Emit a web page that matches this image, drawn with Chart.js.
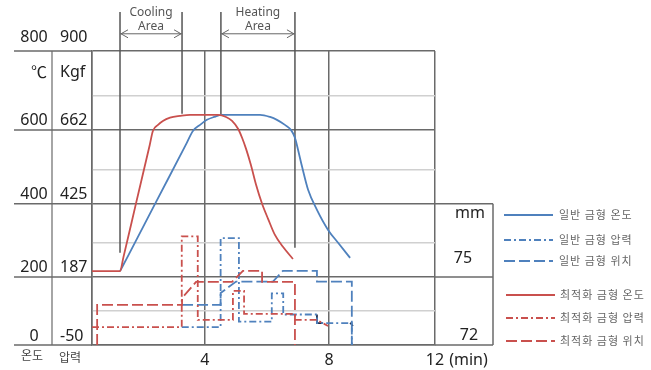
<!DOCTYPE html>
<html><head><meta charset="utf-8">
<script src="https://cdn.jsdelivr.net/npm/chart.js@4.4.1/dist/chart.umd.min.js"></script>
<style>html,body{margin:0;padding:0;background:#fff;}canvas{display:block;}</style>
</head><body>
<canvas id="c" width="651" height="370"></canvas>
<script>
// ---- axes / grid (x in minutes, y in chart units of the drawing) ----
const xGridMinutes = [0, 3.95, 8.29, 12];
const xTickLabels = ['', '4', '8', '12'];
const xUnitLabel = '(min)';
const yMajorValues = [0, 190, 394, 600, 820];
const yMinorValues = [95, 285, 488, 695];
const tempLabels = ['0', '200', '400', '600', '800'];
const pressLabels = ['-50', '187', '425', '662', '900'];
const posBoxLabels = ['72', '75', 'mm'];
const colHeaders = ['℃', 'Kgf'];
const colFooters = ['온도', '압력'];

// ---- annotated areas ----
const coolingArea = [0.98, 3.15];
const coolingLineEnds = [257, 645];
const heatingArea = [4.51, 7.10];
const heatingLineEnds = [642, 271];
const areaTop = 929;
const arrowLevel = 868;

// ---- series ----
const normTempX = [0.98, 1.24, 2.26, 3.28, 3.53, 3.78, 4.02, 4.27, 4.55, 5.88, 6.23, 6.47, 6.75, 6.96, 7.1, 7.21, 7.35, 7.56, 7.87, 8.26, 8.61, 9.03];
const normTempY = [206, 245, 402, 558, 597, 614, 628, 636, 642, 642, 636, 628, 614, 600, 578, 544, 497, 433, 377, 321, 285, 243];
const normPressX = [3.14, 4.5, 4.5, 5.14, 5.14, 6.29, 6.29, 6.69, 6.69, 7.87, 7.87, 9.09, 9.09];
const normPressY = [50, 50, 298, 298, 65, 65, 144, 144, 85, 85, 61, 61, 0];
const normPosX = [3.15, 4.5, 4.5, 5.04, 6.33, 6.68, 7.87, 7.87, 9.09, 9.09];
const normPosY = [112, 112, 145, 177, 177, 207, 207, 177, 177, 0];
const markX = [7.87, 7.87, 8.08, null, 9.03, 9.13];
const markY = [85, 61, 61, null, 62, 53];

const optTempX = [0, 0.98, 1.1, 1.56, 2.02, 2.13, 2.31, 2.48, 2.73, 3.08, 3.43, 4.41, 4.69, 4.9, 5.11, 5.25, 5.39, 5.56, 5.74, 5.95, 6.16, 6.4, 6.68, 7.03];
const optTempY = [206, 206, 245, 402, 558, 597, 614, 625, 634, 639, 642, 642, 636, 625, 603, 578, 547, 502, 447, 394, 352, 307, 274, 240];
const optPressX = [0, 3.14, 3.14, 3.7, 3.7, 4.93, 4.93, 5.32, 5.32, 7.1, 7.1, 7.87, 8.26];
const optPressY = [50, 50, 303, 303, 70, 70, 151, 151, 87, 87, 70, 70, 53];
const optPosX = [0.18, 0.18, 3.15, 3.15, 3.64, 4.9, 5.28, 5.95, 5.95, 7.1, 7.1];
const optPosY = [0, 112, 112, 131, 176, 176, 207, 207, 176, 176, 0];

const BLUE = '#4F81BD', RED = '#C9504D';
const DASHDOT = [7, 3, 2, 3], DASH = [11, 4];
const DARK = '#6a6a6a', LIGHT = '#d0d0d0';
const LATIN = '"Noto Sans", "Noto Sans CJK KR", sans-serif';
const CJK = '"Noto Sans CJK KR", sans-serif';

const pts = (xs, ys) => xs.map((x, i) => (x === null ? {x: NaN, y: null} : {x, y: ys[i]}));
const mk = (label, xs, ys, color, dash, smooth) => ({
  label, data: pts(xs, ys), borderColor: color, borderWidth: 1.8, borderDash: dash,
  pointRadius: 0, tension: 0, fill: false, borderJoinStyle: 'miter', borderCapStyle: 'butt',
  cubicInterpolationMode: smooth ? 'monotone' : 'default', spanGaps: false
});

const datasets = [
  mk('최적화 금형 온도', optTempX, optTempY, RED, [], true),
  mk('최적화 금형 압력', optPressX, optPressY, RED, DASHDOT),
  mk('최적화 금형 위치', optPosX, optPosY, RED, DASH),
  mk('일반 금형 온도', normTempX, normTempY, BLUE, [], true),
  mk('일반 금형 압력', normPressX, normPressY, BLUE, DASHDOT),
  mk('일반 금형 위치', normPosX, normPosY, BLUE, DASH),
  mk('marks', markX, markY, '#1f2d4a', [])
];
const legendOrder = ['일반 금형 온도', '일반 금형 압력', '일반 금형 위치', '최적화 금형 온도', '최적화 금형 압력', '최적화 금형 위치'];
const legendRowsY = [215, 240, 261, 295, 318, 341];

function line(ctx, x1, y1, x2, y2, color, w) {
  ctx.save(); ctx.strokeStyle = color; ctx.lineWidth = w; ctx.setLineDash([]);
  ctx.beginPath(); ctx.moveTo(x1, y1); ctx.lineTo(x2, y2); ctx.stroke(); ctx.restore();
}
function text(ctx, s, x, y, font, color, align) {
  ctx.save(); ctx.font = font; ctx.fillStyle = color; ctx.textAlign = align || 'center';
  ctx.textBaseline = 'middle'; ctx.fillText(s, x, y); ctx.restore();
}

const decor = {
  id: 'decor',
  beforeDatasetsDraw(chart) {
    const {ctx, scales: {x, y}} = chart;
    const top = y.getPixelForValue(areaTop);
    line(ctx, x.getPixelForValue(coolingArea[0]), top, x.getPixelForValue(coolingArea[0]), y.getPixelForValue(coolingLineEnds[0]), '#555', 1.5);
    line(ctx, x.getPixelForValue(coolingArea[1]), top, x.getPixelForValue(coolingArea[1]), y.getPixelForValue(coolingLineEnds[1]), '#555', 1.5);
    line(ctx, x.getPixelForValue(heatingArea[0]), top, x.getPixelForValue(heatingArea[0]), y.getPixelForValue(heatingLineEnds[0]), '#555', 1.5);
    line(ctx, x.getPixelForValue(heatingArea[1]), top, x.getPixelForValue(heatingArea[1]), y.getPixelForValue(heatingLineEnds[1]), '#555', 1.5);
  },
  afterDraw(chart) {
    const {ctx, chartArea: a, scales: {x, y}} = chart;
    const colSep = 52, tableLeft = 14;
    yMajorValues.forEach(v => line(ctx, tableLeft, y.getPixelForValue(v), a.left, y.getPixelForValue(v), DARK, 1.5));
    line(ctx, colSep, a.top, colSep, a.bottom, DARK, 1.2);
    const boxR = a.right + 58;
    const bTop = y.getPixelForValue(yMajorValues[2]), bMid = y.getPixelForValue(yMajorValues[1]), bBot = y.getPixelForValue(yMajorValues[0]);
    line(ctx, a.right, bTop, boxR, bTop, DARK, 1.5);
    line(ctx, a.right, bMid, boxR, bMid, DARK, 1.5);
    line(ctx, a.right, bBot, boxR, bBot, DARK, 1.5);
    line(ctx, boxR, bTop, boxR, bBot, DARK, 1.5);
    const numFont = '16px ' + LATIN;
    text(ctx, posBoxLabels[2], boxR - 23, bTop + 10, numFont, '#222');
    text(ctx, posBoxLabels[1], boxR - 30, bMid - 18, numFont, '#222');
    text(ctx, posBoxLabels[0], boxR - 24, bBot - 10, numFont, '#222');
    yMajorValues.forEach((v, i) => {
      const py = y.getPixelForValue(v) - (i === yMajorValues.length - 1 ? 14 : 9);
      text(ctx, tempLabels[i], 34, py, numFont, '#222');
      text(ctx, pressLabels[i], 60, py, numFont, '#222', 'left');
    });
    text(ctx, colHeaders[0], 47, a.top + 21, '16px ' + CJK, '#222', 'right');
    text(ctx, colHeaders[1], 60, a.top + 21, numFont, '#222', 'left');
    text(ctx, colFooters[0], 32, a.bottom + 10, '12px ' + CJK, '#444');
    text(ctx, colFooters[1], 70, a.bottom + 12, '12px ' + CJK, '#444');
    xGridMinutes.forEach((v, i) => {
      if (!xTickLabels[i]) return;
      text(ctx, xTickLabels[i], x.getPixelForValue(v), a.bottom + 15, numFont, '#222');
    });
    ctx.save(); ctx.font = numFont;
    const w12 = ctx.measureText(xTickLabels[3]).width; ctx.restore();
    text(ctx, xUnitLabel, x.getPixelForValue(xGridMinutes[3]) + w12 / 2 + 5, a.bottom + 15, numFont, '#222', 'left');
    const ay = y.getPixelForValue(arrowLevel);
    [[coolingArea, 'Cooling'], [heatingArea, 'Heating']].forEach(([ar, name]) => {
      const x1 = x.getPixelForValue(ar[0]), x2 = x.getPixelForValue(ar[1]);
      line(ctx, x1, ay, x2, ay, '#666', 1);
      ctx.save(); ctx.strokeStyle = '#666'; ctx.lineWidth = 1; ctx.beginPath();
      ctx.moveTo(x1 + 8, ay - 4); ctx.lineTo(x1 + 1, ay); ctx.lineTo(x1 + 8, ay + 4);
      ctx.moveTo(x2 - 8, ay - 4); ctx.lineTo(x2 - 1, ay); ctx.lineTo(x2 - 8, ay + 4);
      ctx.stroke(); ctx.restore();
      const cx = (x1 + x2) / 2;
      text(ctx, name, cx, 13, '12px ' + LATIN, '#555');
      text(ctx, 'Area', cx, 27, '12px ' + LATIN, '#555');
    });
    legendOrder.forEach((lab, i) => {
      const ds = chart.data.datasets.find(d => d.label === lab);
      const ly = legendRowsY[i];
      ctx.save(); ctx.strokeStyle = ds.borderColor; ctx.lineWidth = 1.8; ctx.setLineDash(ds.borderDash);
      ctx.beginPath(); ctx.moveTo(i < 3 ? 504 : 506, ly); ctx.lineTo(i < 3 ? 553 : 555, ly); ctx.stroke(); ctx.restore();
      ctx.save(); ctx.font = '11px ' + CJK; ctx.fillStyle = '#666'; ctx.textBaseline = 'middle';
      ctx.letterSpacing = '1px'; ctx.fillText(lab, i < 3 ? 559 : 560, ly); ctx.restore();
    });
  }
};

new Chart(document.getElementById('c'), {
  type: 'line',
  data: {datasets},
  options: {
    responsive: false, animation: false, devicePixelRatio: 1,
    layout: {padding: {left: 92, right: 216, top: 51, bottom: 25}},
    plugins: {legend: {display: false}, tooltip: {enabled: false}},
    scales: {
      x: {type: 'linear', min: 0, max: 12,
        afterBuildTicks: s => { s.ticks = xGridMinutes.map(v => ({value: v})); },
        ticks: {display: false},
        grid: {color: DARK, lineWidth: 1.5, drawTicks: false},
        border: {display: true, color: DARK, width: 1.5}},
      y: {type: 'linear', min: 0, max: 820,
        afterBuildTicks: s => { s.ticks = [...yMajorValues, ...yMinorValues].sort((a, b) => a - b).map(v => ({value: v})); },
        ticks: {display: false},
        grid: {color: c => (c.tick && !yMajorValues.includes(c.tick.value)) ? LIGHT : DARK, lineWidth: 1.5, drawTicks: false},
        border: {display: true, color: DARK, width: 1.5}}
    }
  },
  plugins: [decor]
});
</script>
</body></html>
